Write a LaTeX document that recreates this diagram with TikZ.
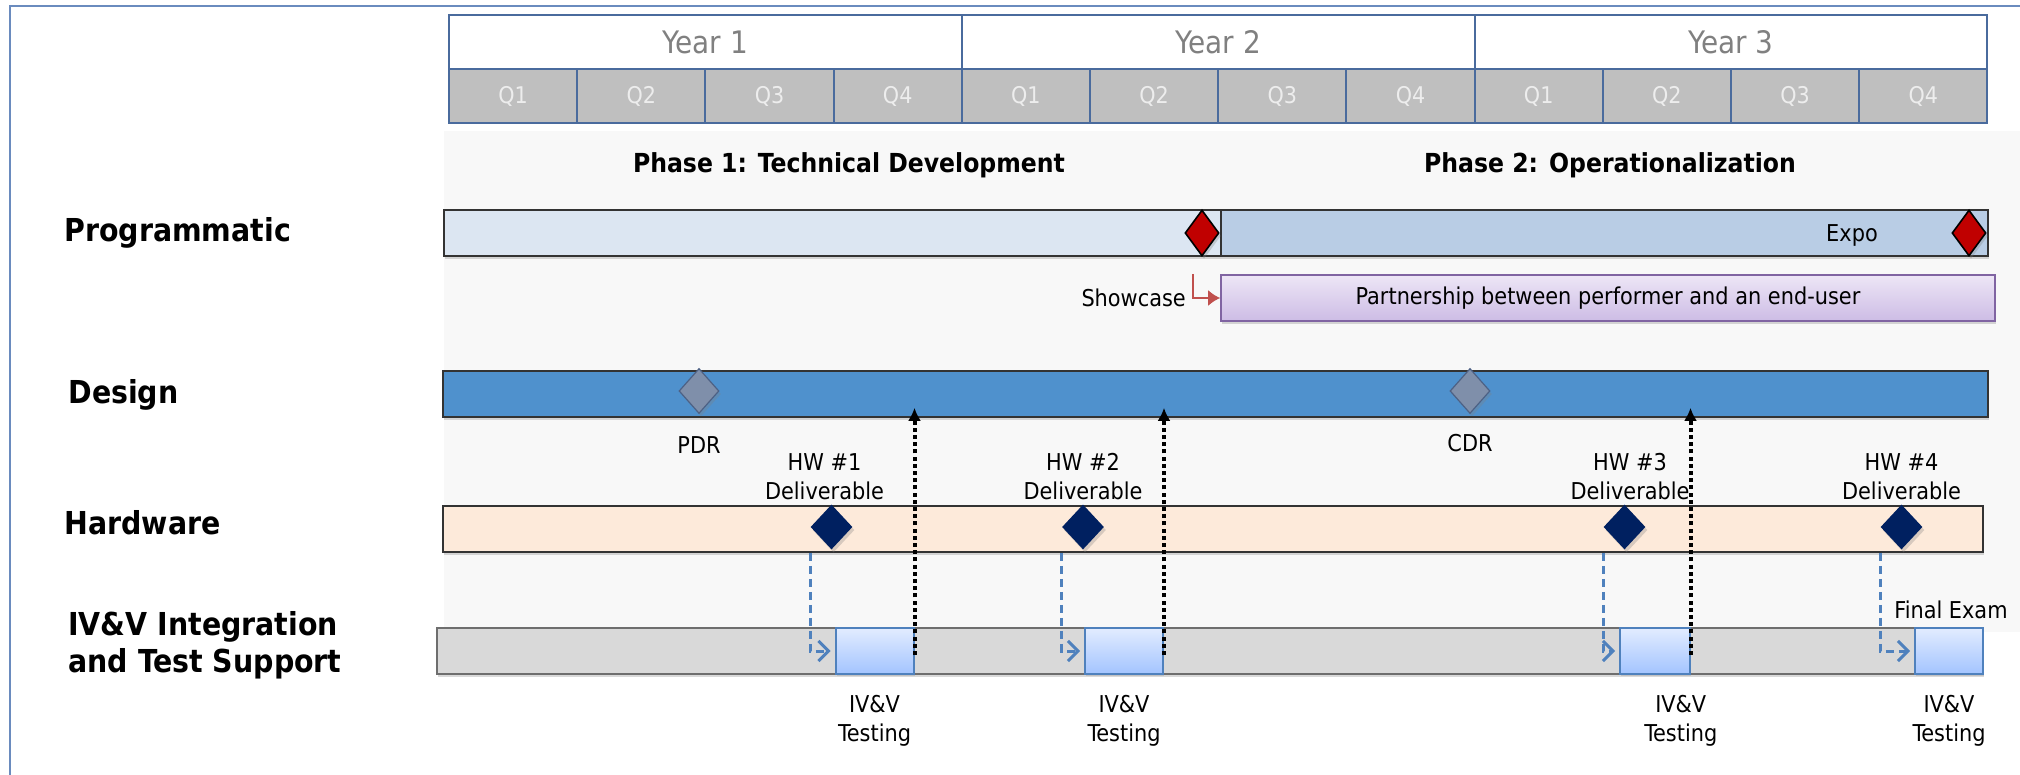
\documentclass[tikz,border=0pt]{standalone}
\usepackage{fontspec}
\setmainfont{DejaVu Sans Condensed}
\usetikzlibrary{positioning,shapes.geometric,shadows,fit,arrows.meta}

\definecolor{hdrline}{HTML}{4A6B9D}
\definecolor{qfill}{HTML}{BFBFBF}
\definecolor{yrtext}{HTML}{808080}
\definecolor{framec}{HTML}{6A8BBE}
\definecolor{phasebg}{HTML}{F8F8F8}
\definecolor{progA}{HTML}{DCE6F2}
\definecolor{progB}{HTML}{B9CDE5}
\definecolor{msred}{HTML}{C00000}
\definecolor{dsgnfill}{HTML}{4F91CD}
\definecolor{msgray}{HTML}{7F8FAA}
\definecolor{msgrayline}{HTML}{4D6185}
\definecolor{hwfill}{HTML}{FDEADA}
\definecolor{msnavy}{HTML}{002060}
\definecolor{ivfill}{HTML}{D9D9D9}
\definecolor{ivline}{HTML}{6E6E6E}
\definecolor{tstline}{HTML}{4F81BD}
\definecolor{tsttop}{HTML}{E2ECFF}
\definecolor{tstbot}{HTML}{A3C4FF}
\definecolor{ptop}{HTML}{EDE6F6}
\definecolor{pbot}{HTML}{CDBCE5}
\definecolor{pline}{HTML}{8064A2}
\definecolor{showred}{HTML}{C0504D}

\begin{document}
\begin{tikzpicture}[x=0.5pt,y=-0.5pt,>=latex,
  hdr/.style={draw=hdrline,line width=1pt},
  rowlbl/.style={font=\bfseries\fontsize{15.8}{18.5}\selectfont,anchor=west,align=left,inner sep=0pt},
  phase/.style={font=\bfseries\fontsize{13.1}{16}\selectfont},
  lbl/.style={font=\fontsize{11.6}{14.5}\selectfont,align=center,inner sep=1pt},
  bar/.style={draw=black!80,line width=0.8pt,inner sep=0pt,
    drop shadow={shadow xshift=0.6pt,shadow yshift=-1.6pt,opacity=0.3}},
  mstone/.style={diamond,inner sep=0pt,
    drop shadow={shadow xshift=1pt,shadow yshift=-1.5pt,opacity=0.3}},
  redms/.style={mstone,fill=msred,draw=black,line width=0.8pt,minimum width=17pt,minimum height=23pt},
  grayms/.style={mstone,fill=msgray,draw=msgrayline,line width=0.6pt,minimum width=20pt,minimum height=22.5pt},
  navyms/.style={mstone,fill=msnavy,minimum width=21pt,minimum height=22.5pt},
  tstbox/.style={draw=tstline,line width=1pt,top color=tsttop,bottom color=tstbot,inner sep=0pt,
    drop shadow={shadow xshift=0.6pt,shadow yshift=-1.2pt,opacity=0.25}},
  hwlink/.style={draw=tstline,line width=1.5pt,dash pattern=on 4pt off 2.5pt,
    -{Straight Barb[length=5pt,width=10pt,line width=1.5pt]},shorten >=2pt},
  testlink/.style={line width=2pt,dash pattern=on 2pt off 1.6pt,-{Latex[length=6.5pt,width=6.5pt]}}]
\useasboundingbox (0,0) rectangle (2020,775);
\draw[framec,line width=1pt] (10,775) -- (10,6) -- (2020,6);
\fill[phasebg] (444,131) rectangle (2020,632);

% time scale
\foreach \Yr in {1,2,3}{
  \draw[hdr,fill=white] ({449+512.8*(\Yr-1)},15) rectangle ({449+512.8*\Yr},69);
  \node[text=yrtext,font=\fontsize{15.5}{18}\selectfont] (yr\Yr) at ({449+512.8*(\Yr-0.5)},42) {Year \Yr};
}
\foreach \Q in {0,...,11}{
  \pgfmathtruncatemacro\Qn{mod(\Q,4)+1}
  \draw[hdr,fill=qfill] ({449+128.2*\Q},69) rectangle ({449+128.2*(\Q+1)},123);
  \node[text=white!93!black,font=\fontsize{11.5}{13}\selectfont] (q\Q) at ({449+128.2*(\Q+0.5)},96) {Q\Qn};
}
\node[phase] (ph1) at (849,165) {Phase 1: Technical Development};
\node[phase] (ph2) at (1610,165) {Phase 2: Operationalization};

% rows
\node[rowlbl] (rprog) at (64,233) {Programmatic};
\node[rowlbl] (rdsgn) at (68,395) {Design};
\node[rowlbl] (rhw) at (64,523) {Hardware};
\node[rowlbl] (riv) at (68,645) {IV\&V Integration\\and Test Support};

\node[bar,fill=progA,fit={(444,210) (1221,256)}] (prog1) {};
\node[bar,fill=progB,fit={(1221,210) (1988,256)}] (prog2) {};
\node[bar,fill=dsgnfill,fit={(443,371) (1988,417)}] (dsgnbar) {};
\node[bar,fill=hwfill,fit={(443,506) (1983,552)}] (hwbar) {};
\node[bar,fill=ivfill,draw=ivline,fit={(437,628) (1983,674)}] (ivbar) {};

% programmatic
\node[redms] (sc1) at (1202,233) {};
\node[redms] (sc2) at (1969,233) {};
\node[lbl] (expo) at (1852,235) {Expo};
\node[bar,draw=pline,top color=ptop,bottom color=pbot,fit={(1221,275) (1995,321)}] (partner) {};
\node[lbl] (ptext) at (partner) {Partnership between performer and an end-user};
\node[lbl,left=16pt of partner] (shwc) {Showcase};
\draw[showred,line width=1pt,-{Latex[length=6pt,width=8pt]}] ([xshift=-4.5pt,yshift=-8.5pt]sc1.south) |- (partner.west);

% design reviews
\node[grayms] (pdr) at (699,391) {};
\node[grayms] (cdr) at (1470,391) {};
\node[lbl,below=10pt of pdr] (pdrl) {PDR};
\node[lbl,below=9pt of cdr] (cdrl) {CDR};

% hardware deliverables
\foreach \Nodo/\X in {1/831.5,2/1083,3/1624.5,4/1901.5}
  \node[navyms] (hw\Nodo) at (\X,527) {};
\foreach \Nodo/\Dx in {1/-3.5,2/0,3/2.75,4/0}
  \node[lbl,above=1pt of hw\Nodo,xshift=\Dx pt] (hwl\Nodo) {HW \#\Nodo\\Deliverable};

% IV&V testing
\node[tstbox,fit={(835.5,628) (913.5,674)}] (tst1) {};
\node[tstbox,fit={(1085,628) (1163,674)}] (tst2) {};
\node[tstbox,fit={(1620,628) (1689.5,674)}] (tst3) {};
\node[tstbox,fit={(1915,628) (1983,674)}] (tst4) {};
\foreach \Nodo/\Dx in {1/0,2/0,3/13,4/0}
  \node[lbl,below=9pt of tst\Nodo,xshift=\Dx pt] (tl\Nodo) {IV\&V\\Testing};
\node[lbl] (fexam) at (1951,610) {Final Exam};

\foreach \Nodo in {1,...,4}
  \draw[hwlink] (hw\Nodo.west |- hwbar.south) |- (tst\Nodo.west);
\foreach \Nodo in {1,2,3}
  \draw[testlink] ([yshift=-2pt]tst\Nodo.east) -- ([yshift=5pt]tst\Nodo.east |- dsgnbar.south);
\end{tikzpicture}
\end{document}
